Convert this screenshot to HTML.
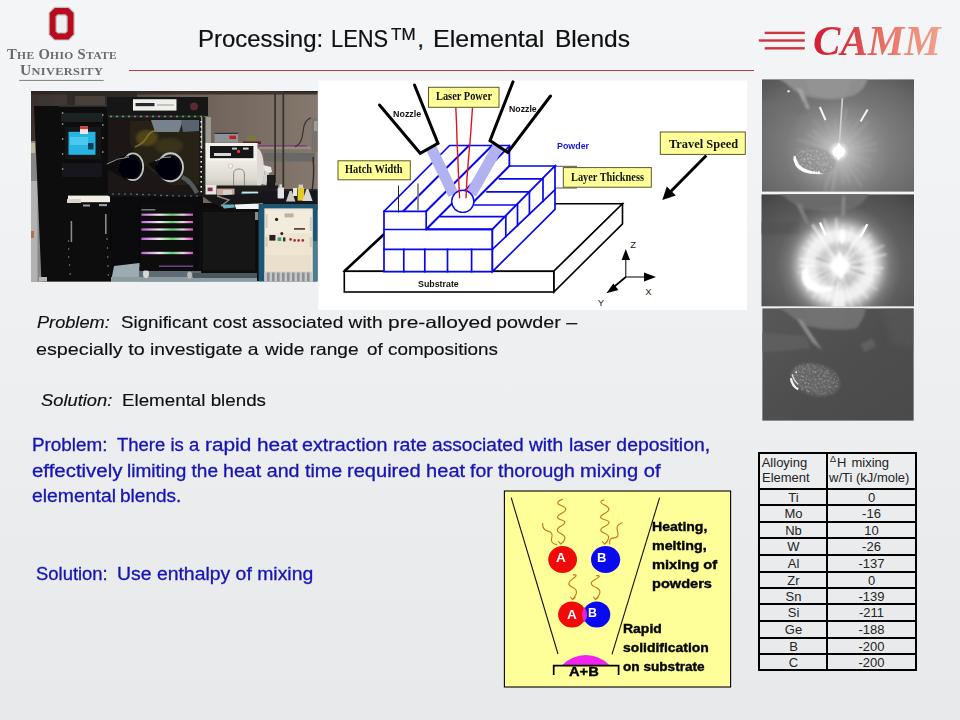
<!DOCTYPE html>
<html lang="en"><head><meta charset="utf-8"><title>Processing: LENS, Elemental Blends</title>
<style>
html,body{margin:0;padding:0;}
body{width:960px;height:720px;overflow:hidden;background:#eceded;font-family:"Liberation Sans",sans-serif;}
#slide{position:relative;width:960px;height:720px;overflow:hidden;
  background:linear-gradient(180deg,#f4f5f7 0%,#f2f3f5 22%,#eff0f2 42%,#edeef0 58%,#eaebed 78%,#e8e9eb 100%);}
.t{position:absolute;white-space:pre;transform-origin:0 0;color:#111;margin:0;padding:0;}
.abs{position:absolute;}
svg{position:absolute;overflow:visible;}

</style></head>
<body>
<div id="slide">
<!-- OSU logo -->
<svg class="abs" style="left:0;top:0" width="130" height="90" viewBox="0 0 130 90">
  <!-- outer silver outline -->
  <path d="M54.3 6.8 H68.9 L74.7 12.6 V34.8 L68.9 40.6 H54.3 L48.5 34.8 V12.6 Z" fill="#bfc1c4"/>
  <path d="M54.8 8 H68.4 L73.5 13.1 V34.3 L68.4 39.4 H54.8 L49.7 34.3 V13.1 Z" fill="#bb0a1e"/>
  <path d="M57.6 14.2 H65.6 L67.7 16.3 V31.5 L65.6 33.6 H57.6 L55.5 31.5 V16.3 Z" fill="#b4b6b9"/>
  <path d="M58.2 15.4 H65 L66.5 16.9 V30.9 L65 32.4 H58.2 L56.7 30.9 V16.9 Z" fill="#eff0f2"/>
  <rect x="19.2" y="79.9" width="84.5" height="1.1" fill="#8a8a8a"/>
</svg>
<!-- CAMM logo lines -->
<svg class="abs" style="left:750px;top:20px" width="70" height="40" viewBox="750 20 70 40">
  <rect x="764.7" y="31.7" width="40.1" height="2.4" fill="#d2323f"/>
  <rect x="758.8" y="39.3" width="46" height="2.4" fill="#d2323f"/>
  <rect x="764.7" y="47.1" width="40.1" height="2.4" fill="#d2323f"/>
</svg>
<!-- title underline -->
<div class="abs" style="left:128.7px;top:69.9px;width:625px;height:1.2px;background:#b8404c"></div>

<!-- LENS machine photo (approximated) -->
<svg class="abs" style="left:31.3px;top:91.3px" width="286.6" height="190.6" viewBox="0 0 286.6 190.6">
  <defs>
    <filter id="pb" x="-2%" y="-2%" width="104%" height="104%"><feGaussianBlur stdDeviation="0.75"/></filter>
    <filter id="pb2" x="-5%" y="-5%" width="110%" height="110%"><feGaussianBlur stdDeviation="1.4"/></filter>
    <linearGradient id="wall" gradientUnits="userSpaceOnUse" x1="0" x2="286.6" y1="0" y2="0">
      <stop offset="0" stop-color="#3a322e"/><stop offset="0.3" stop-color="#4c433d"/><stop offset="0.55" stop-color="#6c6058"/><stop offset="0.8" stop-color="#7a6e65"/><stop offset="1" stop-color="#85786e"/>
    </linearGradient>
    <linearGradient id="cyl" x1="0" x2="0" y1="0" y2="1">
      <stop offset="0" stop-color="#f4f2ec"/><stop offset="0.4" stop-color="#eeebe4"/><stop offset="0.8" stop-color="#dcd9d0"/><stop offset="1" stop-color="#bcb8b0"/>
    </linearGradient>
    <linearGradient id="drawer" x1="0" x2="1" y1="0" y2="0">
      <stop offset="0" stop-color="#c060d8"/><stop offset="0.35" stop-color="#f4e8f0"/><stop offset="0.6" stop-color="#60d070"/><stop offset="0.8" stop-color="#f0d0e8"/><stop offset="1" stop-color="#d050c0"/>
    </linearGradient>
    <clipPath id="pc"><rect x="0" y="0" width="286.6" height="190.6"/></clipPath>
  </defs>
  <g clip-path="url(#pc)">
  <rect x="0" y="0" width="286.6" height="190.6" fill="#0b0b0d"/>
  <g filter="url(#pb)">
    <!-- wall -->
    <rect x="0" y="0" width="286.6" height="27" fill="url(#wall)"/>
    <rect x="172" y="0" width="114.6" height="112" fill="url(#wall)"/>
    <rect x="0" y="0" width="6" height="60" fill="#3a322e"/>
    <rect x="0" y="0" width="286.6" height="3.5" fill="#2a2522" opacity="0.8"/>
    <rect x="36" y="0" width="70" height="14" fill="#2e2925"/>
    <rect x="44" y="5" width="30" height="10" fill="#463f3a"/>
    <!-- conduits / pipes on wall -->
    <rect x="233" y="62" width="51" height="8.5" fill="#686866"/>
    <rect x="228" y="55.6" width="52" height="2.6" fill="#958c84"/>
    <rect x="226" y="54.2" width="50" height="1.2" fill="#7a3a78"/>
    <rect x="243.2" y="0" width="1.8" height="92" fill="#3a3432"/>
    <rect x="251.4" y="0" width="1.8" height="96" fill="#3a3432"/>
    <rect x="253" y="0" width="34" height="1.6" fill="#2c2826"/>
    <path d="M280 27 q-7 2 -8 14 t-8 15" fill="none" stroke="#3e3634" stroke-width="1.3"/>
    <rect x="280.6" y="27" width="6" height="34" fill="#77726c"/>
    <rect x="283" y="30" width="3.6" height="10" fill="#a09c96"/>
    <path d="M282 66 q2 20 -2 40" fill="none" stroke="#2e2a28" stroke-width="1.4"/>
    <!-- left gray cylinder -->
    <rect x="0" y="50" width="11" height="141" fill="#868686"/>
    <rect x="0" y="90" width="6.5" height="101" fill="#b2b2b2"/>
    <rect x="0" y="52" width="4" height="10" fill="#c0b8a0"/>
    <rect x="0" y="140" width="3" height="7" fill="#b07050"/>
    <!-- left rack cabinet -->
    <polygon points="3,15 78,15 80,191 10.5,191 6.5,96" fill="#0b0b0d"/>
    <rect x="28" y="14.5" width="48" height="1.6" fill="#2c2a2c"/>
    <rect x="30" y="22" width="42" height="9" fill="#1c2022"/>
    <!-- monitor -->
    <rect x="34" y="36" width="36" height="32" fill="#121416"/>
    <rect x="37.5" y="40.8" width="27" height="23" fill="#27b4e2"/>
    <rect x="39" y="46" width="18" height="8" fill="#4cc8ee"/>
    <rect x="57" y="52" width="5.5" height="6.5" fill="#0e3a58"/>
    <rect x="49" y="35.5" width="8" height="7.5" fill="#f0e4e0"/>
    <rect x="49" y="35.5" width="8" height="2.6" fill="#d83a34"/>
    <!-- rack details -->
    <rect x="31" y="72" width="40" height="14" fill="#17181a"/>
    <rect x="37" y="104.6" width="42" height="6.6" fill="#f2efe6"/>
    <rect x="36" y="108" width="14" height="4" fill="#d8d4c8"/>
    <rect x="39.6" y="130" width="1.6" height="21" fill="#8a8a86"/>
    <rect x="74" y="123" width="1.6" height="20" fill="#8a8a86"/>
    <rect x="52" y="113.5" width="7" height="2" fill="#9aa0a8"/>
    <rect x="68" y="113" width="8" height="2.2" fill="#9aa0a8"/>
    <g fill="#8e8e8a">
      <circle cx="31.6" cy="22" r="0.9"/><circle cx="31.6" cy="33" r="0.9"/><circle cx="31.6" cy="48" r="0.9"/><circle cx="31.6" cy="63" r="0.9"/><circle cx="31.6" cy="78" r="0.9"/>
      <circle cx="71.8" cy="24" r="0.9"/><circle cx="71.8" cy="34" r="0.9"/><circle cx="71.8" cy="47" r="0.9"/><circle cx="71.8" cy="61" r="0.9"/>
      <circle cx="37.6" cy="150" r="0.8"/><circle cx="37.6" cy="158" r="0.8"/><circle cx="37.6" cy="166" r="0.8"/><circle cx="38.6" cy="174" r="0.8"/><circle cx="39.2" cy="183" r="0.8"/>
      <circle cx="76" cy="148" r="0.8"/><circle cx="76.4" cy="157" r="0.8"/><circle cx="76.8" cy="166" r="0.8"/><circle cx="77" cy="175" r="0.8"/><circle cx="77.3" cy="184" r="0.8"/>
    </g>
    <!-- glove box: top housing -->
    <rect x="76" y="6" width="101" height="19" fill="#121214"/>
    <rect x="102" y="8.2" width="43.5" height="11.4" fill="#efefec"/>
    <rect x="104.5" y="12" width="19" height="3.2" fill="#2a2c30"/>
    <rect x="126" y="13.5" width="17" height="1" fill="#9a9a98"/>
    <circle cx="163" cy="15.6" r="4" fill="#5a2a32"/>
    <!-- glove box window -->
    <rect x="77" y="25" width="95" height="80" fill="#1b1912"/>
    <polygon points="99,30 168,30 168,94 140,94 108,70 99,52" fill="#272317"/>
    <ellipse cx="116" cy="47" rx="11" ry="8" fill="#75621e" opacity="0.55" filter="url(#pb2)"/>
    <ellipse cx="138" cy="55" rx="14" ry="8" fill="#4a4428" opacity="0.5" filter="url(#pb2)"/>
    <polygon points="120,29 152,29 148,41 124,41" fill="#77838c"/>
    <polygon points="150,29 168,29 168,40 152,41" fill="#586470"/>
    <path d="M104 56 q8 -3 12 -10 t10 -6" fill="none" stroke="#8a7a30" stroke-width="1.6" opacity="0.8"/>
    <rect x="77" y="24.4" width="96" height="2" fill="#2c342c"/>
    <!-- frame dots -->
    <g fill="#58c070">
      <circle cx="80" cy="25.4" r="0.9"/><circle cx="86" cy="25.4" r="0.9"/><circle cx="92" cy="25.4" r="0.9"/><circle cx="98" cy="25.4" r="0.9"/><circle cx="110" cy="25.4" r="0.9"/><circle cx="122" cy="25.4" r="0.9"/><circle cx="134" cy="25.4" r="0.9"/><circle cx="146" cy="25.4" r="0.9"/><circle cx="152" cy="25.4" r="0.9"/><circle cx="158" cy="25.4" r="0.9"/><circle cx="164" cy="25.4" r="0.9"/><circle cx="170" cy="25.4" r="0.9"/>
    </g>
    <g fill="#c868b8"><circle cx="104" cy="25.4" r="0.9"/><circle cx="116" cy="25.4" r="0.9"/><circle cx="128" cy="25.4" r="0.9"/><circle cx="140" cy="25.4" r="0.9"/></g>
    <rect x="170" y="26" width="10" height="32" fill="#9a9a92"/>
    <rect x="171.4" y="26" width="3" height="80" fill="#22221e"/>
    <g fill="#e8e8e4">
      <rect x="169.4" y="30" width="1.6" height="1.6"/><rect x="169.4" y="35" width="1.6" height="1.6"/><rect x="169.4" y="40" width="1.6" height="1.6"/><rect x="169.4" y="45" width="1.6" height="1.6"/><rect x="169.4" y="50" width="1.6" height="1.6"/><rect x="169.4" y="55" width="1.6" height="1.6"/><rect x="169.4" y="60" width="1.6" height="1.6"/><rect x="169.4" y="65" width="1.6" height="1.6"/><rect x="169.4" y="70" width="1.6" height="1.6"/><rect x="169.4" y="75" width="1.6" height="1.6"/><rect x="169.4" y="80" width="1.6" height="1.6"/><rect x="169.4" y="85" width="1.6" height="1.6"/><rect x="169.4" y="90" width="1.6" height="1.6"/><rect x="169.4" y="95" width="1.6" height="1.6"/><rect x="169.4" y="100" width="1.6" height="1.6"/>
    </g>
    <!-- bottom frame of glove box -->
    <rect x="78" y="101.5" width="94" height="4" fill="#18181a"/>
    <g fill="#7a8a7a">
      <circle cx="82" cy="103" r="0.8"/><circle cx="88" cy="103" r="0.8"/><circle cx="94" cy="103" r="0.8"/><circle cx="100" cy="103" r="0.8"/><circle cx="106" cy="103.4" r="0.8"/><circle cx="112" cy="103.6" r="0.8"/><circle cx="118" cy="103.8" r="0.8"/><circle cx="124" cy="104" r="0.8"/><circle cx="130" cy="104.4" r="0.8"/><circle cx="136" cy="104.6" r="0.8"/><circle cx="142" cy="104.8" r="0.8"/><circle cx="148" cy="105" r="0.8"/><circle cx="154" cy="105" r="0.8"/><circle cx="160" cy="105" r="0.8"/><circle cx="166" cy="105" r="0.8"/>
    </g>
    <!-- gloves -->
    <path d="M72 76 L96 63 Q110 62 112 77 Q110 92 98 90 Z" fill="#08080a"/>
    <ellipse cx="102" cy="75.8" rx="10.2" ry="13.4" fill="none" stroke="#c0c3c6" stroke-width="1.8"/>
    <ellipse cx="98.4" cy="76.5" rx="10.4" ry="11.4" fill="#060608"/>
    <path d="M76 73 q10 -6 22 -7" fill="none" stroke="#8e9094" stroke-width="1"/>
    <path d="M117 73 L134 65 Q150 62 152 77 Q150 92 136 90 Z" fill="#08080a"/>
    <ellipse cx="139.6" cy="76.3" rx="12.4" ry="14" fill="none" stroke="#c6c9cc" stroke-width="1.9"/>
    <ellipse cx="137" cy="77" rx="11.6" ry="12" fill="#060608"/>
    <path d="M124 70 q8 -5 16 -4" fill="none" stroke="#9a9ca0" stroke-width="1"/>
    <path d="M151 86 q9 4 15 16" fill="none" stroke="#54585c" stroke-width="4.5"/>
    <!-- gray control box -->
    <rect x="183.5" y="41.6" width="23.6" height="10" fill="#8e9296"/>
    <rect x="183.5" y="41.6" width="23.6" height="1.4" fill="#2e3032"/>
    <rect x="198.4" y="44.6" width="6.6" height="3.4" fill="#c81e1e"/>
    <ellipse cx="220.5" cy="47.6" rx="4.4" ry="3.6" fill="#7a7a40"/>
    <rect x="212" y="50.4" width="18" height="2.6" fill="#5a2826"/>
    <!-- white furnace / cylinder -->
    <rect x="174.5" y="52" width="52" height="45" fill="url(#cyl)"/>
    <path d="M226 57 q6 2 7 20 t-7 20 z" fill="#dcd9d2"/>
    <rect x="179" y="55" width="43.4" height="12.4" fill="#141416"/>
    <rect x="183" y="62" width="17" height="3" fill="#d8d8d8"/>
    <rect x="201" y="56.6" width="5" height="2" fill="#c0c8d0"/><rect x="212" y="56.6" width="5.6" height="2" fill="#d8d8d8"/>
    <circle cx="207.6" cy="60.4" r="1.6" fill="#ff3030"/>
    <rect x="176" y="67.4" width="49" height="2" fill="#faf8f2"/>
    <path d="M202.6 97 v-14 q0 -5 5.4 -5 t5.4 5 v14" fill="none" stroke="#8c8a86" stroke-width="1"/>
    <circle cx="199.6" cy="75" r="2.2" fill="#f4f2ec" stroke="#a8a6a0" stroke-width="0.5"/>
    <path d="M232 74 l8 2 l1 5 l-7 2 z" fill="#e8e8e4"/>
    <path d="M234 80 l4 2 l-3 12 l-4 -1 z" fill="#d0d0cc"/>
    <rect x="236" y="84" width="8" height="16" fill="#1a1a1c"/>
    <!-- items on table -->
    <rect x="173" y="94.5" width="74" height="12" fill="#1c1b1c"/>
    <rect x="244" y="98" width="43" height="6" fill="#2a2726"/>
    <rect x="174.5" y="94" width="11" height="9.5" fill="#e8e4e0"/>
    <rect x="176.6" y="96.6" width="5" height="3.6" fill="#803050"/>
    <rect x="186" y="97.6" width="17.5" height="7.4" fill="#c8a8a0"/>
    <rect x="192" y="99" width="9" height="5" fill="#d8d0c4"/>
    <rect x="210" y="101" width="17.6" height="5" fill="#1a6a7a"/>
    <rect x="211" y="100.6" width="16" height="1.8" fill="#d8e0e0"/>
    <!-- table -->
    <polygon points="172,105 287,100 287,119 196,120 178,110" fill="#151517"/>
    <rect x="230" y="100" width="57" height="12.6" fill="#19191b"/>
    <polygon points="203.6,113.4 232,112.4 235,119.6 206,120.6" fill="#f4f4f4"/>
    <polygon points="190,113.6 203,113.4 204,116.6 193,117.4" fill="#6ab0c0"/>
    <path d="M186 105 l12 4 l-8 6" fill="none" stroke="#8a8c88" stroke-width="1.4"/>
    <!-- bottles -->
    <rect x="246.6" y="96.6" width="6.4" height="11" rx="1.4" fill="#e4e4e4"/>
    <rect x="248.4" y="93.4" width="2.6" height="4" fill="#d8d8d8"/>
    <polygon points="258.6,100 260.8,100 264.4,110.6 255,110.6" fill="#c8c8c4"/>
    <rect x="266.6" y="96.6" width="6.6" height="13" fill="#e4cc28"/>
    <rect x="267.6" y="93.6" width="4.4" height="3.4" fill="#d0d0c0"/>
    <polygon points="275.4,98 277.4,98 281.6,110 271.4,110" fill="#d8d8d4"/>
    <rect x="262" y="97" width="4" height="8" fill="#e8e8e0"/>
    <!-- under-table black cabinet -->
    <rect x="168" y="118" width="62" height="66" fill="#0e0e10"/>
    <rect x="172" y="121" width="52" height="58" fill="#141416"/>
    <rect x="224" y="121" width="3.4" height="8" fill="#8a8a88"/>
    <!-- tool chest -->
    <rect x="108.5" y="114" width="54.5" height="66" fill="#0a0a0c"/>
    <rect x="110.4" y="118" width="14" height="1.6" fill="#707478"/>
    <g>
      <rect x="110.4" y="122.6" width="51.6" height="2.2" fill="url(#drawer)"/>
      <rect x="110.4" y="130" width="51.6" height="2.2" fill="url(#drawer)"/>
      <rect x="110.4" y="137.4" width="51.6" height="2.2" fill="url(#drawer)"/>
      <rect x="110.4" y="146.6" width="51.6" height="2.4" fill="url(#drawer)"/>
      <rect x="110.4" y="160.8" width="51.6" height="2.4" fill="url(#drawer)"/>
      <rect x="128" y="174.4" width="34" height="1.8" fill="#7a50a0" opacity="0.8"/>
    </g>
    <!-- floor -->
    <polygon points="83,175 108.5,172 108.5,190.6 80,190.6" fill="#9cabb1"/>
    <rect x="108" y="180" width="62" height="10.6" fill="#5e6c74"/>
    <rect x="80" y="186" width="146" height="4.6" fill="#8c9aa2"/>
    <rect x="162" y="182" width="64" height="5" fill="#4a565c"/>
    <rect x="8" y="186" width="8" height="4.6" fill="#b8b8b8"/>
    <ellipse cx="115" cy="182.6" rx="3" ry="4.6" fill="#d8d8d8"/>
    <ellipse cx="158.6" cy="184" rx="2.4" ry="3.6" fill="#b8b8b8"/>
    <rect x="108.5" y="176" width="54" height="3.6" fill="#0a0a0c"/>
    <!-- beige power unit -->
    <rect x="227.6" y="113" width="59" height="77.6" fill="#1b5672"/>
    <rect x="233.4" y="117.4" width="48.4" height="73.2" fill="#efe7d6"/>
    <rect x="235" y="120" width="45" height="22" fill="#f3ecdc"/>
    <rect x="235" y="143" width="45" height="19" fill="#eee4d0"/>
    <rect x="235" y="163.6" width="45" height="16" fill="#eadfca"/>
    <rect x="233.4" y="180.6" width="48.4" height="10" fill="#c8c8c8"/>
    <g fill="#8e9092"><rect x="236" y="181.6" width="2.6" height="9"/><rect x="241" y="181.6" width="2.6" height="9"/><rect x="246" y="181.6" width="2.6" height="9"/><rect x="251" y="181.6" width="2.6" height="9"/><rect x="256" y="181.6" width="2.6" height="9"/><rect x="261" y="181.6" width="2.6" height="9"/><rect x="266" y="181.6" width="2.6" height="9"/><rect x="271" y="181.6" width="2.6" height="9"/><rect x="276" y="181.6" width="2.6" height="9"/></g>
    <rect x="253.6" y="122.4" width="9" height="4" fill="#b8b4a4"/>
    <circle cx="245.6" cy="128.4" r="1.6" fill="#222"/>
    <rect x="238.4" y="144" width="6" height="5.6" fill="#2a1a20"/>
    <circle cx="250.8" cy="142.6" r="1.5" fill="#222"/>
    <rect x="246.6" y="146.4" width="3.6" height="3.6" fill="#2aa878"/>
    <rect x="252" y="146.4" width="2.4" height="4" fill="#333"/>
    <rect x="263" y="137" width="11" height="1.8" fill="#5a4a40"/>
    <g fill="#a02838"><circle cx="259.6" cy="148.4" r="1.3"/><circle cx="263.6" cy="149.4" r="1.3"/><circle cx="267.6" cy="149.4" r="1.3"/><circle cx="271.8" cy="149.4" r="1.3"/></g>
    <rect x="234.6" y="123" width="2" height="14" fill="#d0ccc0"/><rect x="278.8" y="126" width="2" height="14" fill="#d0ccc0"/>
    <rect x="234.6" y="146" width="2" height="10" fill="#d0ccc0"/><rect x="278.8" y="146" width="2" height="10" fill="#d0ccc0"/>
    <rect x="282" y="150" width="4.6" height="40" fill="#5a8ca0" opacity="0.7"/>
  </g>
  </g>
</svg>

<!-- LENS process schematic -->
<svg class="abs" style="left:0;top:0" width="960" height="720" viewBox="0 0 960 720">
  <rect x="318.5" y="80.6" width="428.5" height="229.4" fill="#ffffff"/>
  <!-- substrate -->
  <g fill="#fff" stroke="#000" stroke-width="1.6" stroke-linejoin="miter">
    <polygon points="344.3,271.3 416.7,203.8 622.5,203.8 553.8,271.3"/>
    <polygon points="553.8,271.3 622.5,203.8 622.5,223.8 553.8,292"/>
    <rect x="344.3" y="271.3" width="209.5" height="20.7"/>
  </g>
  <line x1="344.3" y1="271.3" x2="385" y2="233.3" stroke="#000" stroke-width="2.6"/>
  <!-- layer thickness ticks -->
  <g stroke="#555" stroke-width="1">
    <line x1="555" y1="166.3" x2="577" y2="166.3"/><line x1="555" y1="188" x2="577" y2="188"/>
  </g>
  <!-- deposited block -->
  <g fill="#fff" stroke="#0808ea" stroke-width="1.7" stroke-linejoin="miter" stroke-linecap="square">
    <!-- lower top surface -->
    <polygon points="426.2,229.3 492.3,229.3 555,166 509.3,166 509.3,146"/>
    <!-- hatched top surface -->
    <polygon points="384,211.3 449.6,145.5 509.3,145.5 509.3,166 474,201.5 426.2,229.3 426.2,211.3" stroke="none"/>
    <polyline points="384,211.3 449.6,145.5 509.3,145.5 509.3,166" fill="none"/>
    <!-- front face -->
    <polygon points="384,211.3 426.2,211.3 426.2,229.3 492.4,229.3 492.4,271.6 384,271.6"/>
    <!-- right face -->
    <polygon points="492.4,229.3 555,166 555,209.4 492.4,271.6"/>
    <line x1="384" y1="229.5" x2="492.4" y2="229.5"/>
    <line x1="384" y1="249.4" x2="492.4" y2="249.4"/>
    <line x1="492.4" y1="249.4" x2="555" y2="189.7"/>
    <line x1="403.8" y1="249.4" x2="403.8" y2="271.6"/>
    <line x1="424.8" y1="249.4" x2="424.8" y2="271.6"/>
    <line x1="447.5" y1="249.4" x2="447.5" y2="271.6"/>
    <line x1="471.6" y1="249.4" x2="471.6" y2="271.6"/>
    <!-- hatch diagonals -->
    <line x1="403.7" y1="210.8" x2="468.8" y2="145.7" stroke-width="2"/>
    <line x1="426.2" y1="211.3" x2="491.9" y2="145.7" stroke-width="2"/>
    <line x1="426.2" y1="229.3" x2="509.3" y2="146.3" stroke-width="2"/>
    <line x1="472" y1="203.5" x2="509.3" y2="166" stroke-width="2"/>
    <!-- rows on lower surface -->
    <line x1="440.4" y1="216.7" x2="505.5" y2="216.7"/>
    <line x1="474.7" y1="205" x2="517" y2="205"/>
    <line x1="487.1" y1="191.9" x2="529.4" y2="191.9"/>
    <line x1="499.5" y1="178.8" x2="542.5" y2="178.8"/>
    <!-- dividers on right face -->
    <line x1="505.8" y1="216" x2="505.8" y2="236.6"/>
    <line x1="517.5" y1="204.3" x2="517.5" y2="225.6"/>
    <line x1="529.4" y1="192.2" x2="529.4" y2="214.2"/>
    <line x1="543" y1="178.6" x2="543" y2="201.3"/>
  </g>
  <!-- hatch width ticks -->
  <line x1="398.5" y1="185.5" x2="398.5" y2="212.5" stroke="#222" stroke-width="1"/>
  <line x1="418" y1="183.5" x2="418" y2="210.8" stroke="#777" stroke-width="1.6"/>
  <!-- powder streams -->
  <g stroke="#b1b2ef" stroke-width="11" stroke-linecap="butt">
    <line x1="431" y1="147.5" x2="453.4" y2="194.5"/>
    <line x1="498" y1="146.5" x2="471.2" y2="193.7"/>
  </g>
  <!-- melt pool -->
  <circle cx="462.8" cy="201.3" r="11.1" fill="#fff" stroke="#0a0ae6" stroke-width="1.4"/>
  <!-- laser -->
  <g fill="none" stroke="#e01418" stroke-width="1.4">
    <path d="M455.8 107.3 L456.6 125 L457 140 L457.9 160 L458.6 178 L459.6 198.3"/>
    <path d="M472.5 107.3 L471.3 125 L470.2 140 L468.4 160 L467 178 L466 198.3"/>
  </g>
  <!-- nozzles -->
  <g fill="none" stroke="#000" stroke-width="3" stroke-linejoin="miter" stroke-linecap="round">
    <polyline points="379.5,105 420.2,153.3 438,143.4 414.5,85"/>
    <polyline points="513,81.8 490,140.6 507.8,152.5 550.5,96"/>
  </g>
  <!-- travel speed arrow -->
  <line x1="706.3" y1="155.5" x2="669" y2="193.2" stroke="#000" stroke-width="3"/>
  <polygon points="662.3,200 666.8,186.5 675.8,195.5" fill="#000"/>
  <!-- axes -->
  <g stroke="#000" stroke-width="1" fill="#000">
    <line x1="625.8" y1="277" x2="625.8" y2="255"/>
    <line x1="625.8" y1="277" x2="646" y2="277"/>
    <line x1="625.8" y1="277" x2="612" y2="288.5" stroke-width="1.7"/>
    <polygon points="625.8,249 621.6,260 630,260" stroke="none"/>
    <polygon points="656,277 644,272.4 644,281.6" stroke="none"/>
    <polygon points="606.4,293.2 613.3,283.6 618.4,290" stroke="none"/>
  </g>
  <!-- label boxes -->
  <g fill="#ffff99" stroke="#5a5a28" stroke-width="1">
    <rect x="428.5" y="87.3" width="70.5" height="20"/>
    <rect x="338" y="160.8" width="72.3" height="19"/>
    <rect x="563.3" y="167.6" width="88" height="19.6"/>
    <rect x="660.3" y="132" width="85" height="22.4"/>
  </g>
</svg>

<!-- deposition camera frames (approximated) -->
<svg class="abs" style="left:0;top:0" width="960" height="720" viewBox="0 0 960 720">
  <defs>
    <filter id="sb1" x="-10%" y="-10%" width="120%" height="120%"><feGaussianBlur stdDeviation="1.2"/></filter>
    <filter id="sb3" x="-20%" y="-20%" width="140%" height="140%"><feGaussianBlur stdDeviation="3"/></filter>
    <filter id="sb05" x="-10%" y="-10%" width="120%" height="120%"><feGaussianBlur stdDeviation="0.6"/></filter>
    <filter id="spk" x="0" y="0" width="100%" height="100%">
      <feTurbulence type="fractalNoise" baseFrequency="0.55" numOctaves="2" seed="7" result="n"/>
      <feColorMatrix in="n" type="matrix" values="0 0 0 0 1  0 0 0 0 1  0 0 0 0 1  2.6 0 0 0 -1.25" result="a"/>
      <feComposite in="a" in2="SourceGraphic" operator="in"/>
    </filter>
    <radialGradient id="g1" cx="0.5" cy="0.5" r="0.5">
      <stop offset="0" stop-color="#fff" stop-opacity="1"/><stop offset="0.1" stop-color="#fff" stop-opacity="0.95"/>
      <stop offset="0.2" stop-color="#ddd" stop-opacity="0.58"/><stop offset="0.5" stop-color="#c0c0c0" stop-opacity="0.38"/><stop offset="0.8" stop-color="#aaa" stop-opacity="0.14"/><stop offset="1" stop-color="#aaa" stop-opacity="0"/>
    </radialGradient>
    <radialGradient id="bg1" cx="0.52" cy="0.6" r="0.75">
      <stop offset="0" stop-color="#8c8c8c"/><stop offset="0.45" stop-color="#7c7c7c"/><stop offset="0.8" stop-color="#686868"/><stop offset="1" stop-color="#585858"/>
    </radialGradient>
    <radialGradient id="g2" cx="0.5" cy="0.5" r="0.5">
      <stop offset="0" stop-color="#fff"/><stop offset="0.12" stop-color="#fff"/>
      <stop offset="0.2" stop-color="#cdcdcd"/><stop offset="0.3" stop-color="#c2c2c2"/>
      <stop offset="0.42" stop-color="#ececec"/><stop offset="0.54" stop-color="#f4f4f4" stop-opacity="0.97"/>
      <stop offset="0.66" stop-color="#d0d0d0" stop-opacity="0.8"/><stop offset="0.8" stop-color="#999" stop-opacity="0.42"/><stop offset="1" stop-color="#777" stop-opacity="0"/>
    </radialGradient>
    <radialGradient id="bg2" cx="0.5" cy="0.62" r="0.8">
      <stop offset="0" stop-color="#7a7a7a"/><stop offset="0.5" stop-color="#626262"/><stop offset="0.85" stop-color="#4e4e4e"/><stop offset="1" stop-color="#404040"/>
    </radialGradient>
    <linearGradient id="bg3" x1="0" x2="1" y1="0" y2="1">
      <stop offset="0" stop-color="#585858"/><stop offset="0.5" stop-color="#4e4e4e"/><stop offset="1" stop-color="#4a4a4a"/>
    </linearGradient>
    <clipPath id="c1"><rect x="762" y="79.2" width="152" height="112.6"/></clipPath>
    <clipPath id="c2"><rect x="761.3" y="194.2" width="152.7" height="112.4"/></clipPath>
    <clipPath id="c3"><rect x="762.2" y="308.2" width="151.6" height="112.6"/></clipPath>
  </defs>
  <!-- white separators behind -->
  <rect x="761.3" y="191.5" width="152.7" height="3" fill="#f4f4f4"/>
  <rect x="761.3" y="306.4" width="152.7" height="2.2" fill="#f0f0f0"/>

  <!-- frame 1 -->
  <g clip-path="url(#c1)">
    <rect x="762" y="79.2" width="152" height="112.6" fill="url(#bg1)"/>
    <g transform="translate(762,79.2)">
      <g filter="url(#sb1)">
        <path d="M14 -2 L106 -2 Q104 10 92 16 Q70 24 40 16 Q30 10 24 4 Z" fill="#8e8e8e"/>
        <path d="M42 -2 L90 -2 L84 18 Q64 22 50 16 Z" fill="#959595" opacity="0.7"/>
        <path d="M34 8 L40 10 L48 30 L44 29 Z" fill="#a4a4a4"/>
        <rect x="-2" y="22" width="46" height="12" fill="#707070" opacity="0.35"/>
        
      </g>
      <circle cx="76.5" cy="72.5" r="54" fill="url(#g1)"/>
      <g filter="url(#sb1)">
        <line x1="82.5" y1="72.3" x2="115.5" y2="71.0" stroke="#c8c8c8" stroke-width="1.7" opacity="0.21"/>
        <line x1="82.3" y1="74.0" x2="109.1" y2="81.2" stroke="#c8c8c8" stroke-width="1.2" opacity="0.25"/>
        <line x1="81.9" y1="75.1" x2="108.6" y2="87.9" stroke="#c8c8c8" stroke-width="2.6" opacity="0.18"/>
        <line x1="80.8" y1="76.7" x2="103.9" y2="99.2" stroke="#c8c8c8" stroke-width="2.1" opacity="0.13"/>
        <line x1="79.8" y1="77.5" x2="100.0" y2="108.0" stroke="#c8c8c8" stroke-width="1.9" opacity="0.23"/>
        <line x1="78.5" y1="78.2" x2="87.7" y2="104.3" stroke="#c8c8c8" stroke-width="2.3" opacity="0.21"/>
        <line x1="77.4" y1="78.4" x2="81.5" y2="105.5" stroke="#c8c8c8" stroke-width="2.4" opacity="0.19"/>
        <line x1="75.6" y1="78.4" x2="70.0" y2="114.7" stroke="#c8c8c8" stroke-width="2.2" opacity="0.27"/>
        <line x1="74.5" y1="78.1" x2="62.3" y2="111.8" stroke="#c8c8c8" stroke-width="1.8" opacity="0.27"/>
        <line x1="72.8" y1="77.2" x2="55.6" y2="99.4" stroke="#c8c8c8" stroke-width="1.4" opacity="0.14"/>
        <line x1="71.8" y1="76.2" x2="46.6" y2="95.6" stroke="#c8c8c8" stroke-width="2.1" opacity="0.15"/>
        <line x1="71.2" y1="75.3" x2="43.5" y2="89.8" stroke="#c8c8c8" stroke-width="1.7" opacity="0.21"/>
        <line x1="70.7" y1="73.9" x2="34.7" y2="82.3" stroke="#c8c8c8" stroke-width="2.2" opacity="0.27"/>
        <line x1="70.5" y1="72.2" x2="32.7" y2="70.2" stroke="#c8c8c8" stroke-width="2.1" opacity="0.13"/>
        <line x1="70.8" y1="70.8" x2="34.8" y2="59.9" stroke="#c8c8c8" stroke-width="2.5" opacity="0.20"/>
        <line x1="71.3" y1="69.5" x2="45.7" y2="55.1" stroke="#c8c8c8" stroke-width="2.4" opacity="0.20"/>
        <line x1="71.9" y1="68.7" x2="50.6" y2="51.0" stroke="#c8c8c8" stroke-width="2.4" opacity="0.28"/>
        <line x1="72.8" y1="67.8" x2="50.7" y2="39.6" stroke="#c8c8c8" stroke-width="1.8" opacity="0.13"/>
        <line x1="74.2" y1="67.0" x2="60.6" y2="34.2" stroke="#c8c8c8" stroke-width="2.4" opacity="0.11"/>
        <line x1="75.9" y1="66.5" x2="73.0" y2="39.2" stroke="#c8c8c8" stroke-width="2.2" opacity="0.16"/>
        <line x1="77.6" y1="66.6" x2="84.2" y2="29.4" stroke="#c8c8c8" stroke-width="1.9" opacity="0.28"/>
        <line x1="78.5" y1="66.8" x2="87.6" y2="40.5" stroke="#c8c8c8" stroke-width="2.0" opacity="0.11"/>
        <line x1="79.7" y1="67.4" x2="96.4" y2="40.7" stroke="#c8c8c8" stroke-width="2.1" opacity="0.13"/>
        <line x1="80.7" y1="68.2" x2="106.4" y2="42.2" stroke="#c8c8c8" stroke-width="1.6" opacity="0.27"/>
        <line x1="82.0" y1="70.0" x2="110.3" y2="57.2" stroke="#c8c8c8" stroke-width="1.8" opacity="0.19"/>
        <line x1="82.4" y1="71.2" x2="115.1" y2="63.8" stroke="#c8c8c8" stroke-width="2.0" opacity="0.21"/>
      </g>
      <g filter="url(#sb1)">
        <ellipse cx="52.5" cy="81" rx="21.5" ry="12.5" transform="rotate(12 52.5 81)" fill="#8a8a8a" opacity="0.6"/>
      </g>
      <g filter="url(#sb05)">
        <path d="M31.5 77 Q31 88 41 92.5 Q50 96 62 94.4 Q50 93 41 88.5 Q34.5 84 33.5 76.5 Z" fill="#f4f4f4"/>
        <path d="M32.6 79 Q34 88 42.5 91.6 Q50 94 58 93.6" fill="none" stroke="#fff" stroke-width="2.6" stroke-dasharray="2.2 0.7 1.2 0.6 3 0.8"/>
        <line x1="57.8" y1="27.8" x2="63.5" y2="40.8" stroke="#f4f4f4" stroke-width="2"/>
        <line x1="105.6" y1="30.4" x2="98.6" y2="42.2" stroke="#f4f4f4" stroke-width="2"/>
        <line x1="80.4" y1="19" x2="77.4" y2="64" stroke="#cfcfcf" stroke-width="1.7"/>
        <circle cx="26.6" cy="12" r="1.3" fill="#e0e0e0"/>
        <path d="M76.8 63 L79.4 67.6 Q83.6 69.6 83 73.4 Q82 77.4 78.4 78 L76.4 81.6 L74.6 77.8 Q70.4 76.6 70.4 72.6 Q70.8 68.6 74.6 67.6 Z" fill="#fff"/>
      </g>
      <ellipse cx="52.5" cy="81" rx="20" ry="11" transform="rotate(12 52.5 81)" fill="#e8e8e8" filter="url(#spk)" opacity="0.55"/>
    </g>
  </g>

  <!-- frame 2 -->
  <g clip-path="url(#c2)">
    <rect x="761.3" y="194.2" width="152.7" height="112.4" fill="url(#bg2)"/>
    <g transform="translate(761.3,194.2)">
      <g filter="url(#sb1)">
        <path d="M14 -2 L108 -2 Q104 9 92 14 Q70 20 42 14 Q30 9 24 3 Z" fill="#6a6a6a"/>
        <path d="M34 8 L40 10 L48 30 L44 29 Z" fill="#7e7e7e"/>
        <rect x="-2" y="28" width="40" height="12" fill="#505050" opacity="0.5"/>
        <line x1="82.4" y1="2" x2="81.8" y2="22" stroke="#8a8a8a" stroke-width="3"/>
      </g>
      <circle cx="78.3" cy="71.5" r="63" fill="url(#g2)" filter="url(#sb1)"/>
      <g filter="url(#sb1)">
        <path d="M41 76 Q38 92 52 97 Q66 101 75 92 Q62 95 53 88 Q46 82 47 72 Z" fill="#fff"/>
        <path d="M70 114 L76 88 L80 88 L84 114 Z" fill="#f4f4f4" opacity="0.8"/>
        <line x1="88.3" y1="71.2" x2="100.7" y2="70.7" stroke="#8a8a8a" stroke-width="2.0" opacity="0.45"/>
        <line x1="87.8" y1="74.6" x2="103.5" y2="79.7" stroke="#8a8a8a" stroke-width="2.5" opacity="0.45"/>
        <line x1="84.8" y1="79.1" x2="92.0" y2="87.5" stroke="#8a8a8a" stroke-width="2.2" opacity="0.47"/>
        <line x1="83.1" y1="80.3" x2="89.3" y2="91.6" stroke="#8a8a8a" stroke-width="1.7" opacity="0.38"/>
        <line x1="78.5" y1="81.5" x2="78.7" y2="95.8" stroke="#8a8a8a" stroke-width="2.3" opacity="0.25"/>
        <line x1="75.5" y1="81.1" x2="72.1" y2="92.5" stroke="#8a8a8a" stroke-width="1.5" opacity="0.27"/>
        <line x1="70.5" y1="77.7" x2="57.2" y2="88.3" stroke="#8a8a8a" stroke-width="1.5" opacity="0.38"/>
        <line x1="69.2" y1="75.7" x2="57.3" y2="81.3" stroke="#8a8a8a" stroke-width="1.8" opacity="0.41"/>
        <line x1="68.3" y1="71.3" x2="54.8" y2="71.0" stroke="#8a8a8a" stroke-width="1.6" opacity="0.33"/>
        <line x1="68.8" y1="68.5" x2="54.6" y2="64.0" stroke="#8a8a8a" stroke-width="2.3" opacity="0.35"/>
        <line x1="70.6" y1="65.2" x2="61.1" y2="57.4" stroke="#8a8a8a" stroke-width="1.8" opacity="0.40"/>
        <line x1="75.1" y1="62.0" x2="70.7" y2="49.1" stroke="#8a8a8a" stroke-width="2.4" opacity="0.41"/>
        <line x1="78.1" y1="61.5" x2="77.9" y2="47.9" stroke="#8a8a8a" stroke-width="2.0" opacity="0.43"/>
        <line x1="82.0" y1="62.2" x2="87.7" y2="47.4" stroke="#8a8a8a" stroke-width="2.0" opacity="0.31"/>
        <line x1="85.4" y1="64.5" x2="96.7" y2="53.4" stroke="#8a8a8a" stroke-width="1.5" opacity="0.36"/>
        <line x1="87.5" y1="67.5" x2="103.2" y2="60.7" stroke="#8a8a8a" stroke-width="2.5" opacity="0.34"/>
        <line x1="87.3" y1="72.0" x2="122.1" y2="73.9" stroke="#ffffff" stroke-width="2.1" opacity="0.50"/>
        <line x1="87.2" y1="73.1" x2="118.9" y2="78.7" stroke="#ffffff" stroke-width="3.0" opacity="0.43"/>
        <line x1="86.5" y1="75.2" x2="112.6" y2="87.0" stroke="#ffffff" stroke-width="2.1" opacity="0.45"/>
        <line x1="85.9" y1="76.3" x2="116.4" y2="95.8" stroke="#ffffff" stroke-width="2.4" opacity="0.27"/>
        <line x1="84.2" y1="78.3" x2="106.8" y2="104.2" stroke="#ffffff" stroke-width="2.5" opacity="0.37"/>
        <line x1="82.6" y1="79.4" x2="100.6" y2="112.6" stroke="#ffffff" stroke-width="1.4" opacity="0.27"/>
        <line x1="80.9" y1="80.1" x2="92.6" y2="118.9" stroke="#ffffff" stroke-width="1.8" opacity="0.41"/>
        <line x1="79.1" y1="80.5" x2="82.2" y2="112.8" stroke="#ffffff" stroke-width="2.0" opacity="0.36"/>
        <line x1="77.5" y1="80.5" x2="74.3" y2="116.3" stroke="#ffffff" stroke-width="1.9" opacity="0.38"/>
        <line x1="75.2" y1="80.0" x2="65.4" y2="107.1" stroke="#ffffff" stroke-width="2.3" opacity="0.51"/>
        <line x1="74.0" y1="79.4" x2="59.0" y2="106.9" stroke="#ffffff" stroke-width="2.7" opacity="0.33"/>
        <line x1="72.5" y1="78.4" x2="50.8" y2="104.5" stroke="#ffffff" stroke-width="2.5" opacity="0.29"/>
        <line x1="71.1" y1="77.0" x2="45.1" y2="96.7" stroke="#ffffff" stroke-width="2.7" opacity="0.40"/>
        <line x1="69.9" y1="74.8" x2="41.4" y2="86.0" stroke="#ffffff" stroke-width="1.9" opacity="0.48"/>
        <line x1="69.4" y1="72.9" x2="35.7" y2="78.4" stroke="#ffffff" stroke-width="1.8" opacity="0.29"/>
        <line x1="69.3" y1="71.5" x2="38.4" y2="71.4" stroke="#ffffff" stroke-width="2.7" opacity="0.54"/>
        <line x1="69.4" y1="70.0" x2="37.9" y2="64.6" stroke="#ffffff" stroke-width="2.7" opacity="0.47"/>
        <line x1="70.2" y1="67.5" x2="40.8" y2="53.0" stroke="#ffffff" stroke-width="1.6" opacity="0.35"/>
        <line x1="71.2" y1="65.9" x2="46.1" y2="46.3" stroke="#ffffff" stroke-width="2.0" opacity="0.40"/>
        <line x1="72.2" y1="64.9" x2="49.5" y2="40.1" stroke="#ffffff" stroke-width="2.9" opacity="0.30"/>
        <line x1="73.3" y1="64.0" x2="51.0" y2="30.4" stroke="#ffffff" stroke-width="2.8" opacity="0.60"/>
        <line x1="75.4" y1="63.0" x2="62.7" y2="24.7" stroke="#ffffff" stroke-width="2.9" opacity="0.33"/>
        <line x1="77.6" y1="62.5" x2="74.8" y2="23.7" stroke="#ffffff" stroke-width="2.5" opacity="0.43"/>
        <line x1="79.0" y1="62.5" x2="81.6" y2="29.9" stroke="#ffffff" stroke-width="1.8" opacity="0.27"/>
        <line x1="81.2" y1="63.0" x2="91.4" y2="32.6" stroke="#ffffff" stroke-width="2.7" opacity="0.27"/>
        <line x1="83.2" y1="63.9" x2="103.4" y2="32.7" stroke="#ffffff" stroke-width="2.9" opacity="0.56"/>
        <line x1="84.7" y1="65.1" x2="109.8" y2="39.8" stroke="#ffffff" stroke-width="1.4" opacity="0.51"/>
        <line x1="85.4" y1="65.9" x2="110.6" y2="45.9" stroke="#ffffff" stroke-width="2.5" opacity="0.43"/>
        <line x1="86.5" y1="67.8" x2="123.1" y2="51.0" stroke="#ffffff" stroke-width="2.4" opacity="0.37"/>
        <line x1="87.0" y1="69.4" x2="125.2" y2="60.0" stroke="#ffffff" stroke-width="2.2" opacity="0.52"/>
        <ellipse cx="81" cy="42" rx="3.4" ry="7" fill="#fff"/>
        <path d="M78.3 56 L82 66 L88 70 L84 76 L80 86 L75 78 L69 72 L74 66 Z" fill="#fff"/>
      </g>
      <g filter="url(#sb05)">
        <line x1="58.6" y1="28.4" x2="64.6" y2="41.4" stroke="#fff" stroke-width="2.4"/>
        <line x1="106" y1="30" x2="99" y2="43" stroke="#fff" stroke-width="2.4"/>
      </g>
    </g>
  </g>

  <!-- frame 3 -->
  <g clip-path="url(#c3)">
    <rect x="762.2" y="308.2" width="151.6" height="112.6" fill="url(#bg3)"/>
    <g transform="translate(762.2,308.2)">
      <g filter="url(#sb1)">
        <path d="M14 -2 L104 -2 Q102 12 94 20 Q70 24 46 18 Q30 10 24 4 Z" fill="#707070"/>
        <path d="M42 -2 L84 -2 L80 16 Q62 20 48 14 Z" fill="#737373" opacity="0.8"/>
        <path d="M34 10 L40 12 L60 42 L50 34 Z" fill="#8c8c8c"/>
        <path d="M-2 24 L44 28 L48 40 L-2 44 Z" fill="#626262" opacity="0.75"/>
        <path d="M98 36 L110 30 L114 38 L102 44 Z" fill="#5e5e5e"/>
        <path d="M118 -2 L154 -2 L154 40 L130 36 Z" fill="#5a5a5a" opacity="0.5" filter="url(#sb3)"/>
      </g>
      <g filter="url(#sb1)">
        <ellipse cx="53" cy="71.5" rx="26" ry="16.5" transform="rotate(14 53 71.5)" fill="#5a5a5a"/>
        <ellipse cx="50" cy="70" rx="21" ry="13" transform="rotate(14 50 70)" fill="#636363"/>
      </g>
      <ellipse cx="53" cy="71.5" rx="25" ry="16" transform="rotate(14 53 71.5)" fill="#b0b0b0" filter="url(#spk)" opacity="0.42"/>
      <g filter="url(#sb05)">
        <path d="M28.6 70 Q30 78 36 81" fill="none" stroke="#f4f4f4" stroke-width="2.2"/>
        <path d="M30 66 Q31 72 36 76" fill="none" stroke="#d8d8d8" stroke-width="1.4"/>
        <circle cx="34" cy="64" r="0.9" fill="#eee"/>
      </g>
    </g>
  </g>
</svg>

<!-- enthalpy-of-mixing schematic -->
<svg class="abs" style="left:0;top:0" width="960" height="720" viewBox="0 0 960 720">
  <rect x="504.4" y="491" width="226.2" height="196" fill="#ffff99" stroke="#000" stroke-width="1.1"/>
  <g stroke="#111" stroke-width="1.1">
    <line x1="511.2" y1="497.7" x2="558" y2="654"/>
    <line x1="659.6" y1="497.7" x2="612" y2="654.3"/>
  </g>
  <!-- heat squiggles -->
  <g fill="none" stroke="#c47a1a" stroke-width="1.15" stroke-linecap="round" stroke-linejoin="round">
    <path d="M562.3 499.4 Q553.5 502.6 561.8 505.8 Q570.0 509.1 561.8 513.3 Q553.6 517.6 561.0 519.8 Q568.5 522.0 561.0 526.0 Q553.6 530.0 561.2 533.8 Q568.8 537.6 560.8 543.9 m-2.2 -2.4 l2.2 2.6 l2.6 -2.2"/>
    <path d="M542.6 523.4 Q542.4 529.8 548.0 531.1 Q553.6 532.5 551.7 537.9 Q549.9 543.3 556.5 544.6"/>
    <path d="M603.9 500.1 Q597.2 501.3 605.0 505.3 Q612.9 509.3 604.6 513.4 Q596.3 517.6 604.8 519.8 Q613.3 522.0 605.0 526.2 Q596.6 530.3 604.6 533.3 Q612.6 536.3 604.6 543.9 m-2.2 -2.4 l2.2 2.6 l2.6 -2.2"/>
    <path d="M622.1 522.7 Q615.4 524.7 617.5 531.2 Q619.6 537.7 614.1 537.9 Q608.5 538.2 609.7 543.9"/>
    <path d="M573.2 574.9 Q579.4 574.2 572.3 579.1 Q565.2 584.0 572.8 587.4 Q580.3 590.8 572.6 599.4 m-2.2 -2.4 l2.2 2.6 l2.6 -2.2"/>
    <path d="M596.6 575.6 Q602.8 575.2 595.0 579.5 Q587.2 583.7 595.7 587.2 Q604.2 590.8 595.6 599.4 m-2.2 -2.4 l2.2 2.6 l2.6 -2.2"/>
  </g>
  <ellipse cx="562.6" cy="559.5" rx="14.4" ry="13.5" fill="#f00a0a"/>
  <ellipse cx="605.6" cy="559.5" rx="14.6" ry="13.6" fill="#0a0af0"/>
  <ellipse cx="572" cy="614.5" rx="13.9" ry="13.1" fill="#f00a0a"/>
  <ellipse cx="596.7" cy="614.5" rx="13.6" ry="13.1" fill="#0a0af0"/>
  <!-- overlap lens -->
  <path d="M584.4 608.6 Q588.2 614.5 584.4 620.6 Q581.2 614.5 584.4 608.6 Z" fill="#e028c8" stroke="#e028c8" stroke-width="1.6"/>
  <!-- solidified dome + substrate bracket -->
  <path d="M561.7 665.5 Q572 655 585.8 655 Q599.6 655 609.9 665.5 Z" fill="#f024ec"/>
  <polyline points="553.7,675 553.7,665.6 618.6,665.6 618.6,675" fill="none" stroke="#000" stroke-width="1.7"/>
</svg>

<!-- enthalpy table -->
<svg class="abs" style="left:0;top:0" width="960" height="720" viewBox="0 0 960 720">
<g stroke="#000" stroke-width="1.7" fill="none" shape-rendering="crispEdges">
<rect x="759.3" y="452.7" width="156.7" height="217.3" stroke-width="2"/>
<line x1="827.3" y1="452.7" x2="827.3" y2="670"/>
<line x1="759.3" y1="489" x2="916" y2="489"/>
<line x1="759.3" y1="505.3" x2="916" y2="505.3"/>
<line x1="759.3" y1="521.7" x2="916" y2="521.7"/>
<line x1="759.3" y1="538.3" x2="916" y2="538.3"/>
<line x1="759.3" y1="555" x2="916" y2="555"/>
<line x1="759.3" y1="571.7" x2="916" y2="571.7"/>
<line x1="759.3" y1="588.3" x2="916" y2="588.3"/>
<line x1="759.3" y1="604.3" x2="916" y2="604.3"/>
<line x1="759.3" y1="621" x2="916" y2="621"/>
<line x1="759.3" y1="637.7" x2="916" y2="637.7"/>
<line x1="759.3" y1="654.3" x2="916" y2="654.3"/>
</g></svg>

<div class="t " style="left:197.82px;top:27.18px;font-family:'Liberation Sans',sans-serif;font-size:24px;line-height:24px;transform:scaleX(0.9979);color:#101010;-webkit-text-stroke:0.2px #101010;">Processing:</div>
<div class="t " style="left:331.47px;top:27.18px;font-family:'Liberation Sans',sans-serif;font-size:24px;line-height:24px;transform:scaleX(0.9110);color:#101010;-webkit-text-stroke:0.2px #101010;">LENS</div>
<div class="t " style="left:391.31px;top:26.03px;font-family:'Liberation Sans',sans-serif;font-size:16.5px;line-height:16.5px;transform:scaleX(1.0298);color:#101010;-webkit-text-stroke:0.2px #101010;">TM</div>
<div class="t " style="left:417.32px;top:27.18px;font-family:'Liberation Sans',sans-serif;font-size:24px;line-height:24px;transform:scaleX(1.0000);color:#101010;-webkit-text-stroke:0.2px #101010;">,</div>
<div class="t " style="left:433.25px;top:27.18px;font-family:'Liberation Sans',sans-serif;font-size:24px;line-height:24px;transform:scaleX(1.0423);color:#101010;-webkit-text-stroke:0.2px #101010;">Elemental</div>
<div class="t " style="left:554.53px;top:27.18px;font-family:'Liberation Sans',sans-serif;font-size:24px;line-height:24px;transform:scaleX(1.0211);color:#101010;-webkit-text-stroke:0.2px #101010;">Blends</div>
<div class="t " style="left:36.93px;top:314.43px;font-family:'Liberation Sans',sans-serif;font-size:16.5px;line-height:16.5px;transform:scaleX(1.1007);color:#101010;-webkit-text-stroke:0.15px #101010;font-style:italic;">Problem:</div>
<div class="t " style="left:120.69px;top:314.43px;font-family:'Liberation Sans',sans-serif;font-size:16.5px;line-height:16.5px;transform:scaleX(1.1353);color:#101010;-webkit-text-stroke:0.15px #101010;">Significant cost</div>
<div class="t " style="left:251.66px;top:314.43px;font-family:'Liberation Sans',sans-serif;font-size:16.5px;line-height:16.5px;transform:scaleX(1.1572);color:#101010;-webkit-text-stroke:0.15px #101010;">associated with</div>
<div class="t " style="left:388.03px;top:314.43px;font-family:'Liberation Sans',sans-serif;font-size:16.5px;line-height:16.5px;transform:scaleX(1.2710);color:#101010;-webkit-text-stroke:0.15px #101010;">pre-alloyed</div>
<div class="t " style="left:496.12px;top:314.43px;font-family:'Liberation Sans',sans-serif;font-size:16.5px;line-height:16.5px;transform:scaleX(1.1971);color:#101010;-webkit-text-stroke:0.15px #101010;">powder –</div>
<div class="t " style="left:36.12px;top:341.23px;font-family:'Liberation Sans',sans-serif;font-size:16.5px;line-height:16.5px;transform:scaleX(1.1961);color:#101010;-webkit-text-stroke:0.15px #101010;">especially to</div>
<div class="t " style="left:149.90px;top:341.23px;font-family:'Liberation Sans',sans-serif;font-size:16.5px;line-height:16.5px;transform:scaleX(1.1718);color:#101010;-webkit-text-stroke:0.15px #101010;">investigate a</div>
<div class="t " style="left:264.91px;top:341.23px;font-family:'Liberation Sans',sans-serif;font-size:16.5px;line-height:16.5px;transform:scaleX(1.1587);color:#101010;-webkit-text-stroke:0.15px #101010;">wide range</div>
<div class="t " style="left:367.43px;top:341.23px;font-family:'Liberation Sans',sans-serif;font-size:16.5px;line-height:16.5px;transform:scaleX(1.1428);color:#101010;-webkit-text-stroke:0.15px #101010;">of compositions</div>
<div class="t " style="left:40.92px;top:391.73px;font-family:'Liberation Sans',sans-serif;font-size:16.5px;line-height:16.5px;transform:scaleX(1.1102);color:#101010;-webkit-text-stroke:0.15px #101010;font-style:italic;">Solution:</div>
<div class="t " style="left:122.09px;top:391.73px;font-family:'Liberation Sans',sans-serif;font-size:16.5px;line-height:16.5px;transform:scaleX(1.1373);color:#101010;-webkit-text-stroke:0.15px #101010;">Elemental blends</div>
<div class="t " style="left:31.78px;top:437.39px;font-family:'Liberation Sans',sans-serif;font-size:17.5px;line-height:17.5px;transform:scaleX(1.0776);color:#1515b4;-webkit-text-stroke:0.3px #1515b4;">Problem:</div>
<div class="t " style="left:117.46px;top:437.39px;font-family:'Liberation Sans',sans-serif;font-size:17.5px;line-height:17.5px;transform:scaleX(1.0566);color:#1515b4;-webkit-text-stroke:0.3px #1515b4;">There is a</div>
<div class="t " style="left:204.79px;top:437.39px;font-family:'Liberation Sans',sans-serif;font-size:17.5px;line-height:17.5px;transform:scaleX(1.1882);color:#1515b4;-webkit-text-stroke:0.3px #1515b4;">rapid heat</div>
<div class="t " style="left:302.37px;top:437.39px;font-family:'Liberation Sans',sans-serif;font-size:17.5px;line-height:17.5px;transform:scaleX(1.1260);color:#1515b4;-webkit-text-stroke:0.3px #1515b4;">extraction rate</div>
<div class="t " style="left:432.41px;top:437.39px;font-family:'Liberation Sans',sans-serif;font-size:17.5px;line-height:17.5px;transform:scaleX(1.0952);color:#1515b4;-webkit-text-stroke:0.3px #1515b4;">associated with</div>
<div class="t " style="left:568.64px;top:437.39px;font-family:'Liberation Sans',sans-serif;font-size:17.5px;line-height:17.5px;transform:scaleX(1.1069);color:#1515b4;-webkit-text-stroke:0.3px #1515b4;">laser deposition,</div>
<div class="t " style="left:31.82px;top:462.79px;font-family:'Liberation Sans',sans-serif;font-size:17.5px;line-height:17.5px;transform:scaleX(1.1671);color:#1515b4;-webkit-text-stroke:0.3px #1515b4;">effectively</div>
<div class="t " style="left:127.42px;top:462.79px;font-family:'Liberation Sans',sans-serif;font-size:17.5px;line-height:17.5px;transform:scaleX(1.0882);color:#1515b4;-webkit-text-stroke:0.3px #1515b4;">limiting the</div>
<div class="t " style="left:223.12px;top:462.79px;font-family:'Liberation Sans',sans-serif;font-size:17.5px;line-height:17.5px;transform:scaleX(1.1232);color:#1515b4;-webkit-text-stroke:0.3px #1515b4;">heat and time</div>
<div class="t " style="left:347.35px;top:462.79px;font-family:'Liberation Sans',sans-serif;font-size:17.5px;line-height:17.5px;transform:scaleX(1.1456);color:#1515b4;-webkit-text-stroke:0.3px #1515b4;">required heat</div>
<div class="t " style="left:469.89px;top:462.79px;font-family:'Liberation Sans',sans-serif;font-size:17.5px;line-height:17.5px;transform:scaleX(1.1108);color:#1515b4;-webkit-text-stroke:0.3px #1515b4;">for thorough</div>
<div class="t " style="left:579.84px;top:462.79px;font-family:'Liberation Sans',sans-serif;font-size:17.5px;line-height:17.5px;transform:scaleX(1.1519);color:#1515b4;-webkit-text-stroke:0.3px #1515b4;">mixing of</div>
<div class="t " style="left:31.89px;top:487.89px;font-family:'Liberation Sans',sans-serif;font-size:17.5px;line-height:17.5px;transform:scaleX(1.1079);color:#1515b4;-webkit-text-stroke:0.3px #1515b4;">elemental</div>
<div class="t " style="left:119.92px;top:487.89px;font-family:'Liberation Sans',sans-serif;font-size:17.5px;line-height:17.5px;transform:scaleX(1.0867);color:#1515b4;-webkit-text-stroke:0.3px #1515b4;">blends.</div>
<div class="t " style="left:36.01px;top:566.19px;font-family:'Liberation Sans',sans-serif;font-size:17.5px;line-height:17.5px;transform:scaleX(1.0529);color:#1515b4;-webkit-text-stroke:0.3px #1515b4;">Solution:</div>
<div class="t " style="left:117.44px;top:566.19px;font-family:'Liberation Sans',sans-serif;font-size:17.5px;line-height:17.5px;transform:scaleX(1.1083);color:#1515b4;-webkit-text-stroke:0.3px #1515b4;">Use enthalpy of mixing</div>
<div class="t " style="left:6.69px;top:47.22px;font-family:'Liberation Serif',serif;font-size:14.3px;line-height:14.3px;transform:scaleX(1.0242);color:#6a6a6a;font-weight:bold;letter-spacing:0.3px;">T<span style="font-size:11.3px">H</span><span style="font-size:11.3px">E</span> O<span style="font-size:11.3px">H</span><span style="font-size:11.3px">I</span><span style="font-size:11.3px">O</span> S<span style="font-size:11.3px">T</span><span style="font-size:11.3px">A</span><span style="font-size:11.3px">T</span><span style="font-size:11.3px">E</span></div>
<div class="t " style="left:19.97px;top:62.72px;font-family:'Liberation Serif',serif;font-size:14.3px;line-height:14.3px;transform:scaleX(1.0917);color:#6a6a6a;font-weight:bold;letter-spacing:0.3px;">U<span style="font-size:11.3px">N</span><span style="font-size:11.3px">I</span><span style="font-size:11.3px">V</span><span style="font-size:11.3px">E</span><span style="font-size:11.3px">R</span><span style="font-size:11.3px">S</span><span style="font-size:11.3px">I</span><span style="font-size:11.3px">T</span><span style="font-size:11.3px">Y</span></div>
<div class="t " style="left:812.82px;top:18.69px;font-family:'Liberation Serif',serif;font-size:43px;line-height:43px;transform:scaleX(0.9555);font-style:italic;font-weight:bold;background:linear-gradient(90deg,#d21f33 0%,#d62f3c 22%,#e2675a 45%,#ec8a78 70%,#f2a592 100%);-webkit-background-clip:text;background-clip:text;color:transparent;padding-right:6px;">CAMM</div>
<div class="t " style="left:436.23px;top:91.37px;font-family:'Liberation Serif',serif;font-size:11.5px;line-height:11.5px;transform:scaleX(0.9030);color:#111;font-weight:bold;">Laser Power</div>
<div class="t " style="left:345.23px;top:164.37px;font-family:'Liberation Serif',serif;font-size:11.5px;line-height:11.5px;transform:scaleX(0.9017);color:#111;font-weight:bold;">Hatch Width</div>
<div class="t " style="left:570.73px;top:171.87px;font-family:'Liberation Serif',serif;font-size:11.5px;line-height:11.5px;transform:scaleX(0.9010);color:#111;font-weight:bold;">Layer Thickness</div>
<div class="t " style="left:668.72px;top:136.69px;font-family:'Liberation Serif',serif;font-size:13.5px;line-height:13.5px;transform:scaleX(0.9192);color:#111;font-weight:bold;">Travel Speed</div>
<div class="t " style="left:393.33px;top:108.96px;font-family:'Liberation Sans',sans-serif;font-size:9.5px;line-height:9.5px;transform:scaleX(0.9388);color:#111;font-weight:bold;">Nozzle</div>
<div class="t " style="left:508.54px;top:103.96px;font-family:'Liberation Sans',sans-serif;font-size:9.5px;line-height:9.5px;transform:scaleX(0.9217);color:#111;font-weight:bold;">Nozzle</div>
<div class="t " style="left:557.03px;top:141.26px;font-family:'Liberation Sans',sans-serif;font-size:9.5px;line-height:9.5px;transform:scaleX(0.9340);color:#1414e0;font-weight:bold;">Powder</div>
<div class="t " style="left:418.34px;top:279.46px;font-family:'Liberation Sans',sans-serif;font-size:9.5px;line-height:9.5px;transform:scaleX(0.9296);color:#111;font-weight:bold;">Substrate</div>
<div class="t " style="left:630.34px;top:239.96px;font-family:'Liberation Sans',sans-serif;font-size:9.5px;line-height:9.5px;transform:scaleX(1.0000);color:#222;">Z</div>
<div class="t " style="left:645.34px;top:287.46px;font-family:'Liberation Sans',sans-serif;font-size:9.5px;line-height:9.5px;transform:scaleX(1.0000);color:#222;">X</div>
<div class="t " style="left:597.84px;top:298.46px;font-family:'Liberation Sans',sans-serif;font-size:9.5px;line-height:9.5px;transform:scaleX(1.0000);color:#222;">Y</div>
<div class="t " style="left:651.93px;top:519.60px;font-family:'Liberation Sans',sans-serif;font-size:13px;line-height:13px;transform:scaleX(1.0789);color:#050505;font-weight:bold;-webkit-text-stroke:0.4px #050505;">Heating,</div>
<div class="t " style="left:651.91px;top:538.75px;font-family:'Liberation Sans',sans-serif;font-size:13px;line-height:13px;transform:scaleX(1.0969);color:#050505;font-weight:bold;-webkit-text-stroke:0.4px #050505;">melting,</div>
<div class="t " style="left:651.88px;top:557.75px;font-family:'Liberation Sans',sans-serif;font-size:13px;line-height:13px;transform:scaleX(1.1280);color:#050505;font-weight:bold;-webkit-text-stroke:0.4px #050505;">mixing of</div>
<div class="t " style="left:651.89px;top:577.10px;font-family:'Liberation Sans',sans-serif;font-size:13px;line-height:13px;transform:scaleX(1.1206);color:#050505;font-weight:bold;-webkit-text-stroke:0.4px #050505;">powders</div>
<div class="t " style="left:623.03px;top:622.10px;font-family:'Liberation Sans',sans-serif;font-size:13px;line-height:13px;transform:scaleX(1.0742);color:#050505;font-weight:bold;-webkit-text-stroke:0.4px #050505;">Rapid</div>
<div class="t " style="left:623.46px;top:640.90px;font-family:'Liberation Sans',sans-serif;font-size:13px;line-height:13px;transform:scaleX(1.0702);color:#050505;font-weight:bold;-webkit-text-stroke:0.4px #050505;">solidification</div>
<div class="t " style="left:623.48px;top:659.90px;font-family:'Liberation Sans',sans-serif;font-size:13px;line-height:13px;transform:scaleX(1.0465);color:#050505;font-weight:bold;-webkit-text-stroke:0.4px #050505;">on substrate</div>
<div class="t " style="left:569.17px;top:666.23px;font-family:'Liberation Sans',sans-serif;font-size:12.6px;line-height:12.6px;transform:scaleX(1.1678);color:#050505;font-weight:bold;-webkit-text-stroke:0.4px #050505;">A+B</div>
<div class="t " style="left:555.60px;top:551.20px;font-family:'Liberation Sans',sans-serif;font-size:13px;line-height:13px;transform:scaleX(1.0436);color:#fff;font-weight:bold;">A</div>
<div class="t " style="left:597.30px;top:551.20px;font-family:'Liberation Sans',sans-serif;font-size:13px;line-height:13px;transform:scaleX(1.0012);color:#fff;font-weight:bold;">B</div>
<div class="t " style="left:567.40px;top:608.00px;font-family:'Liberation Sans',sans-serif;font-size:13px;line-height:13px;transform:scaleX(1.0436);color:#fff;font-weight:bold;">A</div>
<div class="t " style="left:587.54px;top:605.80px;font-family:'Liberation Sans',sans-serif;font-size:13px;line-height:13px;transform:scaleX(0.9511);color:#fff;font-weight:bold;">B</div>
<div class="t " style="left:761.70px;top:455.80px;font-family:'Liberation Sans',sans-serif;font-size:13px;line-height:13px;transform:scaleX(1.0000);color:#242424;">Alloying</div>
<div class="t " style="left:762.00px;top:471.40px;font-family:'Liberation Sans',sans-serif;font-size:13px;line-height:13px;transform:scaleX(1.0000);color:#242424;">Element</div>
<div class="t " style="left:830.10px;top:455.38px;font-family:'Liberation Sans',sans-serif;font-size:9px;line-height:9px;transform:scaleX(1.0000);color:#242424;">Δ</div>
<div class="t " style="left:837.00px;top:455.80px;font-family:'Liberation Sans',sans-serif;font-size:13px;line-height:13px;transform:scaleX(1.0000);color:#242424;word-spacing:1.5px;">H mixing</div>
<div class="t " style="left:829.00px;top:471.40px;font-family:'Liberation Sans',sans-serif;font-size:13px;line-height:13px;transform:scaleX(1.0000);color:#242424;">w/Ti (kJ/mole)</div>
<div class="t c" style="left:788.32px;top:490.80px;font-family:'Liberation Sans',sans-serif;font-size:13px;line-height:13px;transform:scaleX(1.0000);color:#242424;">Ti</div>
<div class="t c" style="left:867.88px;top:490.80px;font-family:'Liberation Sans',sans-serif;font-size:13px;line-height:13px;transform:scaleX(1.0000);color:#242424;">0</div>
<div class="t c" style="left:784.47px;top:507.10px;font-family:'Liberation Sans',sans-serif;font-size:13px;line-height:13px;transform:scaleX(1.0000);color:#242424;">Mo</div>
<div class="t c" style="left:862.10px;top:507.10px;font-family:'Liberation Sans',sans-serif;font-size:13px;line-height:13px;transform:scaleX(1.0000);color:#242424;">-16</div>
<div class="t c" style="left:785.19px;top:523.60px;font-family:'Liberation Sans',sans-serif;font-size:13px;line-height:13px;transform:scaleX(1.0000);color:#242424;">Nb</div>
<div class="t c" style="left:864.27px;top:523.60px;font-family:'Liberation Sans',sans-serif;font-size:13px;line-height:13px;transform:scaleX(1.0000);color:#242424;">10</div>
<div class="t c" style="left:787.36px;top:540.20px;font-family:'Liberation Sans',sans-serif;font-size:13px;line-height:13px;transform:scaleX(1.0000);color:#242424;">W</div>
<div class="t c" style="left:862.10px;top:540.20px;font-family:'Liberation Sans',sans-serif;font-size:13px;line-height:13px;transform:scaleX(1.0000);color:#242424;">-26</div>
<div class="t c" style="left:787.72px;top:557.00px;font-family:'Liberation Sans',sans-serif;font-size:13px;line-height:13px;transform:scaleX(1.0000);color:#242424;">Al</div>
<div class="t c" style="left:858.48px;top:557.00px;font-family:'Liberation Sans',sans-serif;font-size:13px;line-height:13px;transform:scaleX(1.0000);color:#242424;">-137</div>
<div class="t c" style="left:787.36px;top:573.60px;font-family:'Liberation Sans',sans-serif;font-size:13px;line-height:13px;transform:scaleX(1.0000);color:#242424;">Zr</div>
<div class="t c" style="left:867.88px;top:573.60px;font-family:'Liberation Sans',sans-serif;font-size:13px;line-height:13px;transform:scaleX(1.0000);color:#242424;">0</div>
<div class="t c" style="left:785.55px;top:589.90px;font-family:'Liberation Sans',sans-serif;font-size:13px;line-height:13px;transform:scaleX(1.0000);color:#242424;">Sn</div>
<div class="t c" style="left:858.48px;top:589.90px;font-family:'Liberation Sans',sans-serif;font-size:13px;line-height:13px;transform:scaleX(1.0000);color:#242424;">-139</div>
<div class="t c" style="left:787.72px;top:606.20px;font-family:'Liberation Sans',sans-serif;font-size:13px;line-height:13px;transform:scaleX(1.0000);color:#242424;">Si</div>
<div class="t c" style="left:858.97px;top:606.20px;font-family:'Liberation Sans',sans-serif;font-size:13px;line-height:13px;transform:scaleX(1.0000);color:#242424;">-211</div>
<div class="t c" style="left:784.83px;top:623.00px;font-family:'Liberation Sans',sans-serif;font-size:13px;line-height:13px;transform:scaleX(1.0000);color:#242424;">Ge</div>
<div class="t c" style="left:858.48px;top:623.00px;font-family:'Liberation Sans',sans-serif;font-size:13px;line-height:13px;transform:scaleX(1.0000);color:#242424;">-188</div>
<div class="t c" style="left:789.16px;top:639.60px;font-family:'Liberation Sans',sans-serif;font-size:13px;line-height:13px;transform:scaleX(1.0000);color:#242424;">B</div>
<div class="t c" style="left:858.48px;top:639.60px;font-family:'Liberation Sans',sans-serif;font-size:13px;line-height:13px;transform:scaleX(1.0000);color:#242424;">-200</div>
<div class="t c" style="left:788.80px;top:655.80px;font-family:'Liberation Sans',sans-serif;font-size:13px;line-height:13px;transform:scaleX(1.0000);color:#242424;">C</div>
<div class="t c" style="left:858.48px;top:655.80px;font-family:'Liberation Sans',sans-serif;font-size:13px;line-height:13px;transform:scaleX(1.0000);color:#242424;">-200</div>
</div>
</body></html>
